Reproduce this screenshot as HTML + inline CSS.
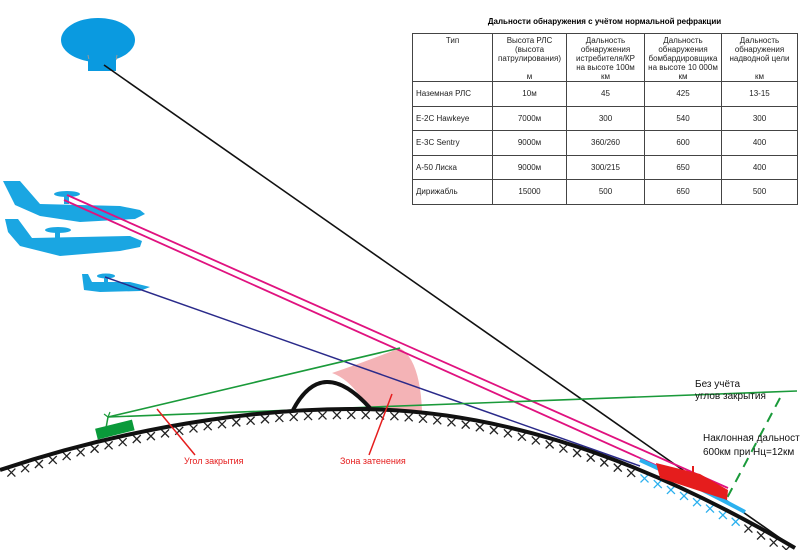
<!DOCTYPE html>
<html><head><meta charset="utf-8"><style>
body{margin:0;background:#fff;width:800px;height:550px;overflow:hidden;font-family:"Liberation Sans",sans-serif}
svg{position:absolute;left:0;top:0}
table{position:absolute;left:412px;top:33px;border-collapse:collapse;font-size:8px;color:#222}
td{border:1px solid #444;padding:0 3px;height:23.5px;text-align:center}
td:first-child{text-align:left}
.h td{height:45px;vertical-align:top;line-height:9px;padding-top:2px}
.t{position:absolute;left:412px;top:17px;width:385px;text-align:center;font-size:8px;font-weight:bold}
</style></head><body>
<svg width="800" height="550" id="s">
<!-- shadow zone -->
<path d="M332,373 Q365,362 400,348 Q420,360 422,411 L368,409 Q352,380 332,373 Z" fill="#f4b3b6"/>
<!-- airship -->
<ellipse cx="98" cy="40" rx="37" ry="22" fill="#0a9ae0"/>
<line x1="88" y1="55" x2="89" y2="60" stroke="#999"/><line x1="117" y1="55" x2="116" y2="60" stroke="#999"/>
<rect x="88" y="59" width="28" height="12" fill="#0a9ae0"/>
<!-- planes -->
<g fill="#1aa6e2">
<path d="M3,181 L20,181 L40,204 L120,206 L140,210 L145,214 L135,219 L80,222 L40,216 L15,205 Z"/>
<ellipse cx="67" cy="194" rx="13" ry="3"/><rect x="64" y="194" width="5" height="10"/>
<path d="M5,219 L18,219 L32,238 L130,236 L142,241 L140,247 L120,251 L60,256 L20,246 L8,232 Z"/>
<ellipse cx="58" cy="230" rx="13" ry="3"/><rect x="55" y="230" width="5" height="8"/>
<path d="M82,274 L88,274 L92,282 L130,282 L150,287 L140,291 L100,292 L84,290 Z"/>
<ellipse cx="106" cy="276" rx="9" ry="2.5"/><rect x="104" y="276" width="4" height="6"/>
</g>
<!-- lines -->
<line x1="104" y1="65" x2="790" y2="545" stroke="#111" stroke-width="1.6"/>
<line x1="67" y1="195" x2="728" y2="488" stroke="#e0127f" stroke-width="1.8"/>
<line x1="64" y1="200" x2="718" y2="493" stroke="#e0127f" stroke-width="1.8"/>
<line x1="105" y1="277" x2="640" y2="466" stroke="#2a2a8a" stroke-width="1.5"/>
<line x1="108" y1="417" x2="400" y2="348" stroke="#1a9a3a" stroke-width="1.6"/>
<line x1="108" y1="417" x2="797" y2="391" stroke="#1a9a3a" stroke-width="1.6"/>
<line x1="780" y1="398" x2="727" y2="498" stroke="#1a9a3a" stroke-width="2" stroke-dasharray="10,7"/>
<path d="M108,417 L106,428" stroke="#1a9a3a" stroke-width="1.5"/>
<path d="M104,414 L108,417 L110,412" stroke="#1a9a3a" stroke-width="1.2" fill="none"/>
<!-- mountain -->
<path d="M293,410 Q322,355 370,408" stroke="#111" stroke-width="4" fill="none"/>
<!-- earth -->
<g id="x" stroke="#222" stroke-width="1.3"></g>
<path id="earth" d="M0,470 C150,420 280,408 360,409 C480,410 620,445 795,548" stroke="#111" stroke-width="4" fill="none"/>
<path d="M640,460 C680,478 715,496 745,512" stroke="#2bb0ee" stroke-width="4" fill="none"/>
<!-- radar -->
<rect x="96" y="424" width="38" height="11" fill="#0a9a3a" transform="rotate(-14 115 430)"/>
<!-- ship -->
<path d="M656,463 L700,474 L728,490 L727,500 L660,478 Z" fill="#e51d1d"/>
<line x1="693" y1="466" x2="693" y2="474" stroke="#e51d1d" stroke-width="2"/>
<!-- red pointers -->
<line x1="157" y1="409" x2="195" y2="455" stroke="#e51d1d" stroke-width="1.5"/>
<line x1="392" y1="394" x2="369" y2="455" stroke="#e51d1d" stroke-width="1.5"/>
<g font-size="9" fill="#e51d1d"><text x="184" y="464">Угол закрытия</text><text x="340" y="464">Зона затенения</text></g>
<g font-size="10" fill="#111"><text x="695" y="387">Без учёта</text><text x="695" y="399">углов закрытия</text>
<text x="703" y="441">Наклонная дальность</text><text x="703" y="455">600км при Нц=12км</text></g>
</svg>
<div class="t">Дальности обнаружения с учётом нормальной рефракции</div>
<table>
<tr class="h"><td style="width:73px;text-align:center">Тип</td><td style="width:67px">Высота РЛС<br>(высота<br>патрулирования)<br><br>м</td><td style="width:71px">Дальность<br>обнаружения<br>истребителя/КР<br>на высоте 100м<br>км</td><td style="width:70px">Дальность<br>обнаружения<br>бомбардировщика<br>на высоте 10 000м<br>км</td><td style="width:69px">Дальность<br>обнаружения<br>надводной цели<br><br>км</td></tr>
<tr><td>Наземная РЛС</td><td>10м</td><td>45</td><td>425</td><td>13-15</td></tr>
<tr><td>E-2C Hawkeye</td><td>7000м</td><td>300</td><td>540</td><td>300</td></tr>
<tr><td>E-3C Sentry</td><td>9000м</td><td>360/260</td><td>600</td><td>400</td></tr>
<tr><td>А-50 Лиска</td><td>9000м</td><td>300/215</td><td>650</td><td>400</td></tr>
<tr><td>Дирижабль</td><td>15000</td><td>500</td><td>650</td><td>500</td></tr>
</table>
<script>
var p=document.getElementById('earth'),g=document.getElementById('x'),L=p.getTotalLength(),h="";
for(var d=10;d<L;d+=14.5){var a=p.getPointAtLength(d),b=p.getPointAtLength(d+1);var dx=b.x-a.x,dy=b.y-a.y,n=Math.hypot(dx,dy);var nx=-dy/n,ny=dx/n;var cx=a.x+nx*6,cy=a.y+ny*6;var c=(a.x>640&&a.x<745)?"#2bb0ee":"#222";
h+='<line x1="'+(cx-4)+'" y1="'+(cy-4)+'" x2="'+(cx+4)+'" y2="'+(cy+4)+'" stroke="'+c+'"/><line x1="'+(cx+4)+'" y1="'+(cy-4)+'" x2="'+(cx-4)+'" y2="'+(cy+4)+'" stroke="'+c+'"/>';}
g.innerHTML=h;
</script>
</body></html>
